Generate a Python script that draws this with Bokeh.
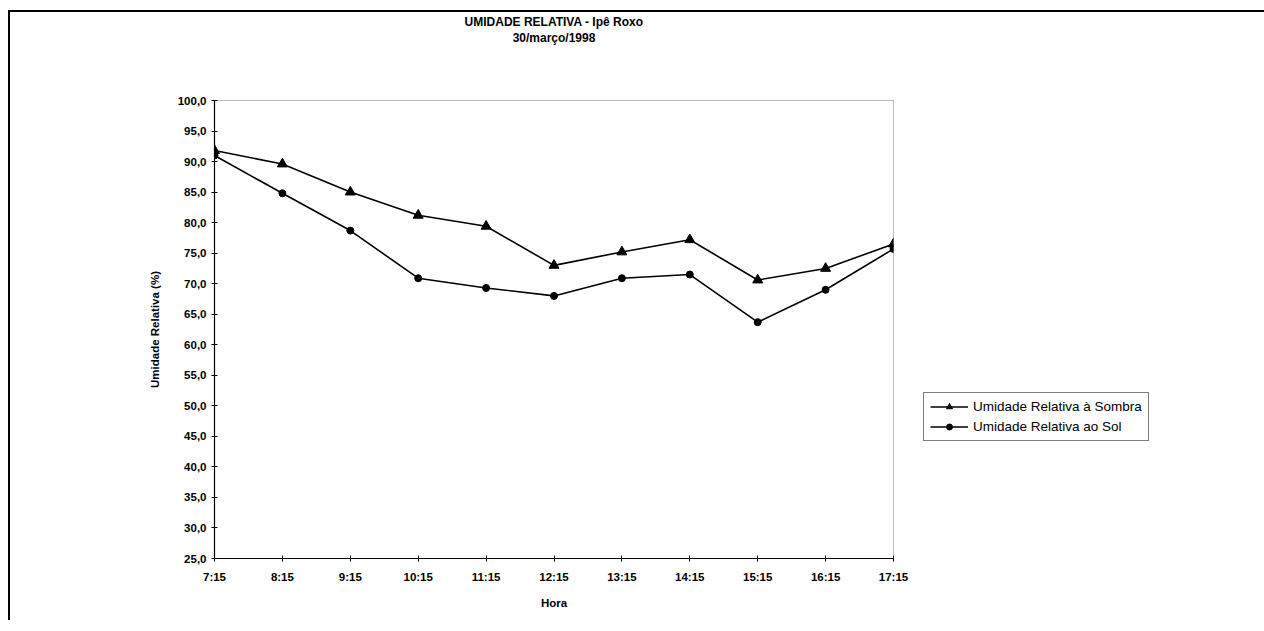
from bokeh.plotting import figure
from bokeh.models import Range1d, FixedTicker, Legend, LegendItem, Title
from bokeh.embed import file_html
from bokeh.resources import INLINE

hours = ["7:15", "8:15", "9:15", "10:15", "11:15", "12:15", "13:15", "14:15", "15:15", "16:15", "17:15"]
sombra = [91.8, 89.6, 85.0, 81.2, 79.4, 73.0, 75.2, 77.2, 70.6, 72.5, 76.5]
sol = [91.0, 84.8, 78.7, 70.9, 69.3, 68.0, 70.9, 71.5, 63.7, 69.0, 75.7]
y_ticks = [25, 30, 35, 40, 45, 50, 55, 60, 65, 70, 75, 80, 85, 90, 95, 100]
title_lines = ["UMIDADE RELATIVA - Ipê Roxo", "30/março/1998"]

FONT = "Liberation Sans"
x = list(range(len(hours)))

p = figure(frame_width=679, frame_height=458, output_backend="svg", toolbar_location=None,
           x_range=Range1d(0, len(hours) - 1), y_range=Range1d(y_ticks[0], y_ticks[-1]),
           min_border_left=204, min_border_right=70, min_border_top=85, min_border_bottom=62,
           title=None)
p.styles = {"border-left": "2px solid black", "border-top": "2px solid black",
            "margin-top": "10px", "margin-left": "8px"}

spacer = Title(text=" ", text_font_size="12px", standoff=40)
t2 = Title(text=title_lines[1], align="center", text_font=FONT, text_font_style="bold",
           text_font_size="12px", text_color="black", standoff=0)
t1 = Title(text=title_lines[0], align="center", text_font=FONT, text_font_style="bold",
           text_font_size="12px", text_color="black", standoff=0)
p.add_layout(spacer, "above")
p.add_layout(t2, "above")
p.add_layout(t1, "above")

p.xgrid.visible = False
p.ygrid.visible = False
p.outline_line_color = "#777777"
p.outline_line_dash = "1 1"
p.outline_line_width = 1

p.xaxis.ticker = FixedTicker(ticks=x)
p.xaxis.major_label_overrides = {i: h for i, h in zip(x, hours)}
p.yaxis.ticker = FixedTicker(ticks=y_ticks)
p.yaxis.major_label_overrides = {t: f"{t:.1f}".replace(".", ",") for t in y_ticks}

for ax in (p.xaxis[0], p.yaxis[0]):
    ax.axis_line_color = "black"
    ax.axis_line_width = 1.2
    ax.major_tick_line_color = "black"
    ax.major_tick_in = 3
    ax.major_tick_out = 3
    ax.minor_tick_line_color = None
    ax.major_label_text_font = FONT
    ax.major_label_text_font_style = "bold"
    ax.major_label_text_font_size = "11.5px"
    ax.major_label_text_color = "black"
    ax.axis_label_text_font = FONT
    ax.axis_label_text_font_style = "bold"
    ax.axis_label_text_font_size = "11.5px"
    ax.axis_label_text_color = "black"

p.xaxis.axis_label = "Hora"
p.xaxis.axis_label_standoff = 11
p.xaxis.major_label_standoff = 9
p.yaxis.axis_label = "Umidade Relativa (%)"
p.yaxis.axis_label_standoff = 14
p.yaxis.major_label_standoff = 5

l1 = p.line(x, sombra, line_color="black", line_width=1.6)
m1 = p.scatter(x, sombra, marker="triangle", size=10, fill_color="black", line_color="black")
l2 = p.line(x, sol, line_color="black", line_width=1.6)
m2 = p.scatter(x, sol, marker="circle", size=7, fill_color="black", line_color="black")

legend = Legend(items=[LegendItem(label="Umidade Relativa à Sombra", renderers=[l1, m1]),
                       LegendItem(label="Umidade Relativa ao Sol", renderers=[l2, m2])],
                location=(30, 117))
legend.border_line_color = "black"
legend.border_line_width = 1
legend.background_fill_alpha = 1
legend.label_text_font = FONT
legend.label_text_font_size = "13.5px"
legend.label_text_color = "black"
legend.glyph_width = 38
legend.glyph_height = 15
legend.label_standoff = 5
legend.spacing = 5
legend.padding = 6
legend.margin = 0
p.add_layout(legend, "right")

open("out.html", "w").write(file_html(p, INLINE))
